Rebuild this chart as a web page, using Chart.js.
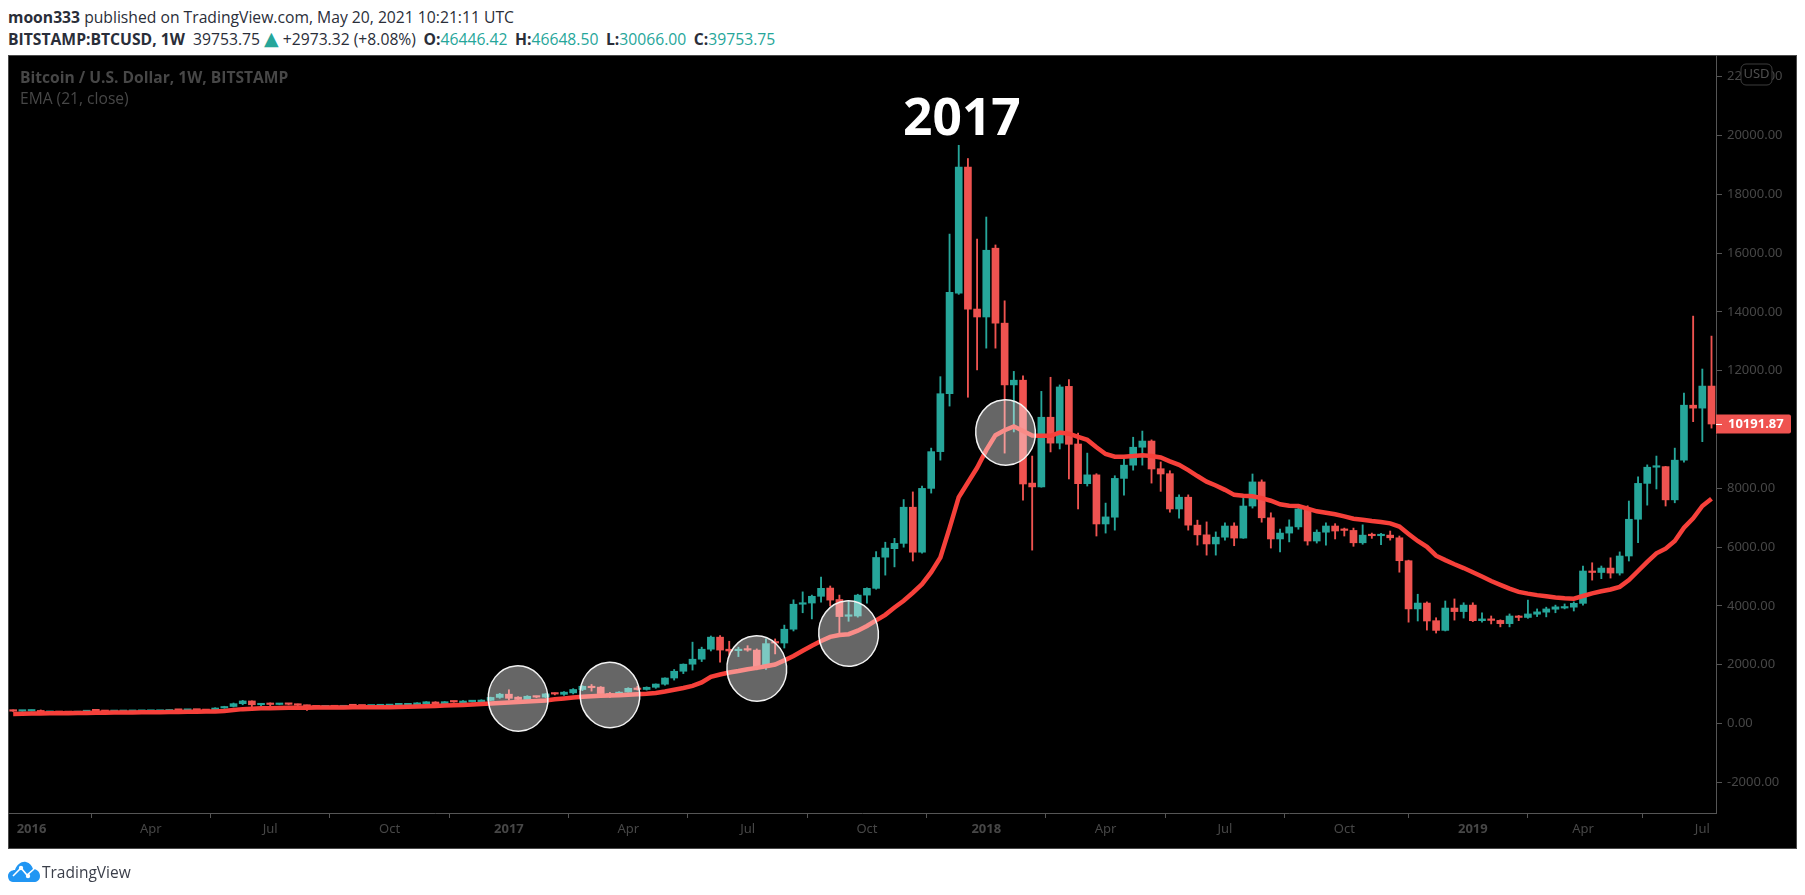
<!DOCTYPE html>
<html>
<head>
<meta charset="utf-8">
<title>BTCUSD 1W</title>
<script src="https://cdn.jsdelivr.net/npm/chart.js@4"></script>
<style>
  html, body { margin: 0; padding: 0; background: #fff; width: 1805px; height: 895px; overflow: hidden; }
  body { position: relative; font-family: "Open Sans", sans-serif; }
  #head1, #head2 { position: absolute; left: 8px; font-size: 15.7px; color: #2a2e39; white-space: pre; line-height: 20px; }
  #head1 { top: 7px; }
  #head2 { top: 29px; }
  #head2 i { font-style: normal; color: #26a69a; }
  #head2 i.tri { font-family: "DejaVu Sans"; font-size: 19px; line-height: 16px; }
  #head2 b.ohlc { margin-left: 3.5px; }
  #pane { position: absolute; left: 8px; top: 55px; width: 1787px; height: 792px; background: #000; border: 1.5px solid #4a4a4a; box-sizing: content-box; }
  #myChart { position: absolute; left: 0; top: 0; }
  #title1, #title2 { position: absolute; left: 20px; font-size: 15.6px; color: #474747; white-space: pre; }
  #title1 { top: 66px; font-weight: 700; }
  #title2 { top: 87px; }
  #big { position: absolute; left: 903px; top: 80px; font-size: 51.5px; font-weight: 700; color: #fff; }
  #logo { position: absolute; left: 8px; top: 861px; }
  #logoText { position: absolute; left: 42px; top: 861px; font-size: 15.5px; color: #3a3e49; }
</style>
</head>
<body>
<div id="head1"><b>moon333</b> published on TradingView.com, May 20, 2021 10:21:11 UTC</div>
<div id="head2"><b>BITSTAMP:BTCUSD, 1W</b>  39753.75 <i class="tri">▲</i> +2973.32 (+8.08%) <b class="ohlc">O:</b><i>46446.42</i> <b class="ohlc">H:</b><i>46648.50</i> <b class="ohlc">L:</b><i>30066.00</i> <b class="ohlc">C:</b><i>39753.75</i></div>
<div id="pane"></div>
<canvas id="myChart" width="1805" height="895"></canvas>
<div id="title1">Bitcoin / U.S. Dollar, 1W, BITSTAMP</div>
<div id="title2">EMA (21, close)</div>
<div id="big">2017</div>
<svg id="logo" width="33" height="21" viewBox="0 0 33 21">
  <path d="M5 21 C1 21 0 17 0 15 C0 11 4 9 7 9 C9 3 14 0 18 1 C22 2 24 5 25 8 C29 8 32 11 32 15 C32 19 29 21 26 21 Z" fill="#2196f3"/>
  <polyline points="5,15 13,7 19,14 26,8" fill="none" stroke="#fff" stroke-width="1.6"/>
  <circle cx="13" cy="7" r="2.2" fill="#fff"/><circle cx="20" cy="15" r="2.2" fill="#fff"/>
</svg>
<div id="logoText">TradingView</div>

<script>
// weekly candles, index 0 = late Dec 2015
var opens = [443,422,428,447,382,403,378,374,405,438,435,410,412,415,418,420,421,429,460,452,458,455,443,530,582,678,770,640,665,650,670,655,625,590,570,580,572,608,606,598,606,612,638,638,640,675,735,670,745,711,745,735,790,890,
  1000,900,820,925,900,1015,995,1045,1160,1260,1240,1010,970,1070,1200,1160,1235,1340,1550,1780,2020,2190,2530,2940,2530,2480,2510,2500,1910,2770,2740,3210,4060,4100,4330,4610,4220,3650,3660,4370,4600,5660,5950,6130,7360,5830,8000,9250,11220,14640,
  18930,14100,13830,16170,13620,11520,11680,8180,8050,10420,9540,11470,9510,8160,8460,6790,7020,8340,8790,9400,9610,8670,8500,7300,7700,6750,6420,6110,6340,6720,6310,7400,8220,7000,6280,6480,6690,7300,6210,6510,6720,6590,6570,6150,6420,6390,6410,6320,5540,3900,4100,3500,3170,3930,3810,4030,3500,3560,
  3510,3400,3660,3610,3720,3790,3890,3930,3960,4090,5190,5140,5290,5120,5700,6950,8170,8720,8740,7610,8960,10830,10730,11480];
var highs = [465,436,462,465,408,410,395,408,445,450,438,420,420,425,424,428,432,468,470,465,462,460,540,590,700,790,775,680,705,680,680,665,630,600,590,590,612,625,612,610,615,640,650,660,712,748,745,750,762,782,790,810,900,1030,
  1150,915,950,935,1020,1045,1085,1190,1290,1330,1260,1060,1085,1220,1270,1250,1350,1560,1840,2030,2770,2600,2980,2990,2800,2600,2650,2540,2880,2880,3350,4210,4480,4370,4980,4680,4370,4170,4400,4620,5850,6170,6300,7620,7880,8080,9370,11800,16650,19670,
  19220,16480,17230,16280,14380,11980,11830,9100,11300,11780,11520,11700,9880,9200,8500,7500,8430,9000,9740,9950,9650,8900,8600,7780,7780,6920,6860,6520,6830,6830,7680,8490,8290,7170,6620,6930,7330,7410,6590,6830,6800,6650,6650,6760,6480,6470,6550,6380,5560,4400,4140,3600,4170,4240,4110,4110,3770,3660,
  3530,3730,3680,4200,3900,3960,4030,4070,4140,5360,5470,5360,5640,5840,7570,8390,8800,9100,8750,9370,11240,13860,12060,13180];
var lows = [412,415,424,365,365,365,362,368,400,412,400,395,405,410,412,412,418,428,440,445,448,435,440,520,565,640,540,600,560,640,640,610,450,560,565,565,565,600,590,590,598,605,630,630,635,670,660,665,725,700,730,720,780,860,
  800,790,790,880,880,975,960,1010,1120,1105,950,890,930,1060,1140,1140,1200,1310,1480,1700,1820,2110,2470,2090,2330,2280,2460,1830,1840,2370,2570,3150,3770,3560,4130,4000,3090,3480,3620,4100,4570,5050,5330,6000,5530,5800,7840,8960,10800,14600,
  11100,12030,12770,12770,9200,9920,7600,5900,8040,9240,9340,8320,7300,8080,6380,6480,6580,7770,8620,8790,8180,7900,7190,6990,6580,6070,5730,5730,6240,6050,6300,7330,6850,5970,5840,6180,6610,6070,6140,6070,6280,6380,6030,6100,6300,6090,6240,5150,3450,3490,3180,3080,3150,3520,3590,3470,3450,3390,
  3290,3290,3500,3580,3640,3630,3770,3900,3830,4030,4880,4930,4950,5050,5530,6150,7430,7980,7400,7510,8890,10270,9590,10050];
var closes = [422,428,447,382,403,378,374,405,438,435,410,412,415,418,420,421,429,460,452,458,456,443,530,582,678,770,640,665,650,670,655,625,590,570,580,572,608,606,598,606,612,638,640,655,705,742,670,745,735,768,755,800,890,1000,
  860,820,930,900,1010,1005,1070,1160,1270,1220,1020,970,1070,1200,1160,1235,1345,1550,1780,2020,2190,2530,2940,2500,2470,2510,2500,1910,2720,2740,3210,4060,4100,4330,4600,4200,3640,3700,4370,4600,5650,5970,6130,7360,5830,8000,9250,11220,14670,18930,
  14100,13830,16100,13620,11520,11680,8150,8050,10420,9540,11450,9500,8160,8460,6790,7030,8340,8790,9400,9610,8660,8490,7300,7700,6750,6420,6110,6340,6720,6310,7400,8220,7000,6280,6480,6690,7300,6210,6510,6720,6550,6570,6150,6410,6390,6410,6320,5540,3900,4100,3490,3170,3930,3810,4030,3500,3560,3510,
  3400,3660,3610,3730,3800,3900,3970,3970,4090,5190,5140,5290,5120,5700,6950,8170,8720,8740,7610,8960,10830,10730,11480,10190];
var ema21 = [330,335,340,345,348,352,355,358,362,366,370,374,378,381,384,387,390,393,396,400,404,408,415,430,460,492,508,518,525,530,535,538,541,544,546,548,550,552,554,556,558,560,565,572,582,592,602,612,622,635,650,665,680,700,
  715,735,750,770,785,825,855,885,915,930,945,955,968,985,1000,1015,1040,1090,1150,1210,1280,1400,1590,1670,1740,1790,1850,1895,1950,2010,2150,2300,2480,2650,2810,2950,3010,3040,3160,3320,3510,3700,3950,4180,4450,4740,5150,5650,6650,7700,
  8200,8700,9300,9810,9980,10110,9950,9800,9790,9790,9900,9860,9750,9650,9400,9170,9080,9080,9100,9130,9100,9050,8920,8800,8620,8420,8230,8100,7950,7780,7750,7730,7670,7580,7460,7410,7400,7310,7220,7170,7120,7050,6970,6930,6890,6860,6810,6700,6450,6210,6010,5710,5560,5420,5290,5150,5000,4850,
  4720,4590,4480,4420,4370,4330,4290,4260,4250,4340,4430,4500,4560,4650,4880,5190,5500,5790,5950,6210,6660,6980,7400,7650];

// x axis labels sit on the first candle of each quarter
var tickWeeks = [2,15,28,41,54,67,80,93,106,119,132,145,159,171,184];
var tickLabels = ['2016','Apr','Jul','Oct','2017','Apr','Jul','Oct','2018','Apr','Jul','Oct','2019','Apr','Jul'];
var priceTicks = [-2000,0,2000,4000,6000,8000,10000,12000,14000,16000,18000,20000,22000];
var lastPrice = 10191.87;

// the five hand drawn circles: centre in week / price, radius in weeks / price
var circleWeeks = [55,65,81,91,108.1];
var circlePrices = [853,972,1873,3063,9900];

var GREEN = '#26a69a', RED = '#ef5350';
var candleColors = opens.map(function (o, i) { return closes[i] >= o ? GREEN : RED; });

var wicks = highs.map(function (h, i) { return { x: i, y: [lows[i], h] }; });
var bodies = opens.map(function (o, i) { return { x: i, y: [o, closes[i]] }; });
var emaPoints = ema21.map(function (v, i) { return { x: i, y: v }; });

const overlay = {
  id: 'overlay',
  afterDatasetsDraw(chart) {
    const ctx = chart.ctx, xs = chart.scales.x, ys = chart.scales.y;
    const rx = Math.abs(xs.getPixelForValue(3.25) - xs.getPixelForValue(0));
    const ry = Math.abs(ys.getPixelForValue(1112) - ys.getPixelForValue(0));
    ctx.save();
    circleWeeks.forEach(function (w, i) {
      ctx.beginPath();
      ctx.ellipse(xs.getPixelForValue(w), ys.getPixelForValue(circlePrices[i]), rx, ry, -0.08, 0, Math.PI * 2);
      ctx.fillStyle = 'rgba(255,255,255,0.4)';
      ctx.fill();
      ctx.lineWidth = 1.5;
      ctx.strokeStyle = '#f2f2f2';
      ctx.stroke();
    });
    ctx.restore();
  },
  afterDraw(chart) {
    const ctx = chart.ctx, area = chart.chartArea, ys = chart.scales.y;
    const y = ys.getPixelForValue(lastPrice);
    ctx.save();
    // last price tag
    ctx.fillStyle = RED;
    ctx.beginPath();
    ctx.roundRect(area.right, y - 9.5, 75, 19, [0, 2, 2, 0]);
    ctx.fill();
    ctx.fillStyle = '#fff';
    ctx.fillRect(area.right, y, 6, 1);
    ctx.font = '700 13px "Noto Sans"';
    ctx.textBaseline = 'middle';
    ctx.fillText('10191.87', area.right + 12, y + 0.5);
    // currency badge
    ctx.beginPath();
    ctx.roundRect(area.right + 25, 64, 31, 21, 5);
    ctx.fillStyle = '#000';
    ctx.fill();
    ctx.strokeStyle = '#3c3c3c';
    ctx.stroke();
    ctx.fillStyle = '#4f4f4f';
    ctx.font = '13px "Noto Sans"';
    ctx.textAlign = 'center';
    ctx.fillText('USD', area.right + 40.5, 74.5);
    ctx.restore();
  }
};

var myChart = new Chart(document.getElementById('myChart').getContext('2d'), {
  type: 'bar',
  plugins: [overlay],
  data: {
    datasets: [
      { type: 'line', label: 'EMA', data: emaPoints, borderColor: '#f6403a', borderWidth: 4.5, pointRadius: 0, tension: 0, order: 1 },
      { label: 'body', data: bodies, backgroundColor: candleColors, barThickness: 7, minBarLength: 1.5, grouped: false, order: 2 },
      { label: 'wick', data: wicks, backgroundColor: candleColors, barThickness: 1.2, grouped: false, order: 3 }
    ]
  },
  options: {
    responsive: false,
    animation: false,
    events: [],
    layout: { padding: { left: 8, top: 55, right: 9, bottom: 47 } },
    plugins: { legend: { display: false }, tooltip: { enabled: false } },
    scales: {
      x: {
        type: 'linear',
        min: -0.566,
        max: 185.49,
        offset: false,
        afterBuildTicks: function (axis) { axis.ticks = tickWeeks.map(function (v) { return { value: v }; }); },
        afterFit: function (axis) { axis.height = 35; },
        border: { color: '#555' },
        grid: { drawOnChartArea: false, drawTicks: true, tickLength: 5, tickColor: '#555' },
        ticks: {
          autoSkip: false,
          maxRotation: 0,
          padding: 3,
          color: '#474747',
          font: function (c) {
            var lab = c.tick ? c.tick.label : '';
            return { family: '"Noto Sans"', size: 13, weight: /^\d/.test(lab) ? '700' : '400' };
          },
          callback: function (v) { return tickLabels[tickWeeks.indexOf(v)]; }
        }
      },
      y: {
        position: 'right',
        min: -3041,
        max: 22741,
        afterBuildTicks: function (axis) { axis.ticks = priceTicks.map(function (v) { return { value: v }; }); },
        afterFit: function (axis) { axis.width = 80; },
        border: { color: '#555' },
        grid: { drawOnChartArea: false, drawTicks: true, tickLength: 6, tickColor: '#555' },
        ticks: {
          padding: 5,
          color: '#474747',
          font: { family: '"Noto Sans"', size: 13 },
          callback: function (v) { return v.toFixed(2); }
        }
      }
    }
  }
});
</script>
</body>
</html>
